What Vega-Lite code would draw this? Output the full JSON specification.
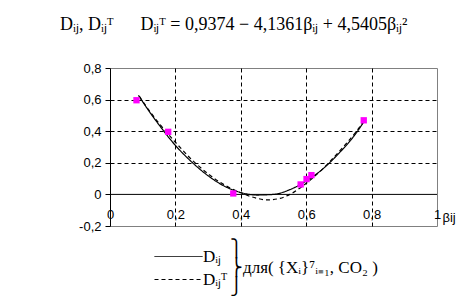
{
  "$schema": "https://vega.github.io/schema/vega-lite/v6.json",
  "width": 327,
  "height": 158,
  "autosize": "none",
  "padding": {"left": 110, "top": 68, "right": 33, "bottom": 82},
  "background": "white",
  "title": {
    "text": "Dᵢⱼ, Dᵢⱼᵀ\u2003\u2002Dᵢⱼᵀ = 0,9374 − 4,1361βᵢⱼ + 4,5405βᵢⱼ²",
    "anchor": "start",
    "frame": "group",
    "dx": -50,
    "offset": 28,
    "font": "Liberation Serif",
    "fontSize": 18,
    "fontWeight": "normal",
    "color": "black"
  },
  "config": {
    "view": {"stroke": "#808080", "strokeWidth": 1},
    "axis": {
      "labelFont": "Liberation Sans",
      "labelFontSize": 13,
      "labelColor": "black",
      "gridColor": "black",
      "gridDash": [4, 3],
      "gridWidth": 1
    }
  },
  "datasets": {
    "curves": [
      {"series": "Dᵢⱼ", "beta": 0.087, "D": 0.627},
      {"series": "Dᵢⱼ", "beta": 0.12, "D": 0.525},
      {"series": "Dᵢⱼ", "beta": 0.15, "D": 0.44},
      {"series": "Dᵢⱼ", "beta": 0.2, "D": 0.31},
      {"series": "Dᵢⱼ", "beta": 0.25, "D": 0.205},
      {"series": "Dᵢⱼ", "beta": 0.3, "D": 0.118},
      {"series": "Dᵢⱼ", "beta": 0.35, "D": 0.052},
      {"series": "Dᵢⱼ", "beta": 0.4, "D": 0.012},
      {"series": "Dᵢⱼ", "beta": 0.45, "D": -0.004},
      {"series": "Dᵢⱼ", "beta": 0.5, "D": 0.0},
      {"series": "Dᵢⱼ", "beta": 0.55, "D": 0.03},
      {"series": "Dᵢⱼ", "beta": 0.6, "D": 0.085},
      {"series": "Dᵢⱼ", "beta": 0.65, "D": 0.16},
      {"series": "Dᵢⱼ", "beta": 0.7, "D": 0.26},
      {"series": "Dᵢⱼ", "beta": 0.75, "D": 0.38},
      {"series": "Dᵢⱼ", "beta": 0.775, "D": 0.455},
      {"series": "Dᵢⱼᵀ", "beta": 0.09, "D": 0.62},
      {"series": "Dᵢⱼᵀ", "beta": 0.12, "D": 0.53},
      {"series": "Dᵢⱼᵀ", "beta": 0.15, "D": 0.45},
      {"series": "Dᵢⱼᵀ", "beta": 0.2, "D": 0.33},
      {"series": "Dᵢⱼᵀ", "beta": 0.25, "D": 0.22},
      {"series": "Dᵢⱼᵀ", "beta": 0.3, "D": 0.13},
      {"series": "Dᵢⱼᵀ", "beta": 0.35, "D": 0.06},
      {"series": "Dᵢⱼᵀ", "beta": 0.4, "D": 0.01},
      {"series": "Dᵢⱼᵀ", "beta": 0.45, "D": -0.025},
      {"series": "Dᵢⱼᵀ", "beta": 0.48, "D": -0.035},
      {"series": "Dᵢⱼᵀ", "beta": 0.52, "D": -0.025},
      {"series": "Dᵢⱼᵀ", "beta": 0.55, "D": 0.0},
      {"series": "Dᵢⱼᵀ", "beta": 0.6, "D": 0.07},
      {"series": "Dᵢⱼᵀ", "beta": 0.65, "D": 0.16},
      {"series": "Dᵢⱼᵀ", "beta": 0.7, "D": 0.27},
      {"series": "Dᵢⱼᵀ", "beta": 0.75, "D": 0.39},
      {"series": "Dᵢⱼᵀ", "beta": 0.775, "D": 0.46}
    ],
    "points": [
      {"beta": 0.081, "D": 0.596},
      {"beta": 0.178, "D": 0.396},
      {"beta": 0.377, "D": 0.006},
      {"beta": 0.583, "D": 0.063},
      {"beta": 0.601, "D": 0.097},
      {"beta": 0.616, "D": 0.122},
      {"beta": 0.776, "D": 0.469}
    ]
  },
  "layer": [
    {
      "data": {"values": [{"y0": 0}]},
      "mark": {"type": "rule", "color": "black", "strokeWidth": 1},
      "encoding": {"y": {"field": "y0", "type": "quantitative"}}
    },
    {
      "data": {"name": "curves"},
      "mark": {"type": "line", "color": "black", "strokeWidth": 1.2, "interpolate": "monotone"},
      "encoding": {
        "x": {
          "field": "beta",
          "type": "quantitative",
          "scale": {"domain": [0, 1], "nice": false, "zero": false},
          "axis": {
            "values": [0, 0.2, 0.4, 0.6, 0.8, 1],
            "tickCount": 12,
            "domain": false,
            "ticks": false,
            "tickSize": 0,
            "labelPadding": -18,
            "labelFlush": false,
            "labelOverlap": false,
            "labelExpr": "replace(datum.value == 0 ? '0' : datum.value == 1 ? '1' : format(datum.value, '.1f'), '.', ',')",
            "grid": true,
            "gridOpacity": {"condition": {"test": "datum.value < 0.01 || datum.value > 0.99", "value": 0}, "value": 1},
            "title": "βij",
            "titleFont": "Liberation Sans",
            "titleFontSize": 13,
            "titleFontWeight": "normal",
            "titleColor": "black",
            "titleAlign": "left",
            "titleBaseline": "alphabetic",
            "titleAnchor": "end",
            "titleX": 332,
            "titleY": -5
          }
        },
        "y": {
          "field": "D",
          "type": "quantitative",
          "scale": {"domain": [-0.2, 0.8], "nice": false, "zero": false},
          "axis": {
            "values": [-0.2, 0, 0.2, 0.4, 0.6, 0.8],
            "tickCount": 12,
            "domainColor": "black",
            "tickColor": "black",
            "tickSize": 5,
            "labelPadding": 4,
            "labelOverlap": false,
            "labelFlush": false,
            "labelExpr": "replace(replace(abs(datum.value) < 0.001 ? '0' : format(datum.value, '.1f'), '.', ','), '−', '-')",
            "grid": true,
            "gridOpacity": {"condition": {"test": "abs(datum.value) < 0.001 || datum.value > 0.79 || datum.value < -0.19", "value": 0}, "value": 1},
            "title": null
          }
        },
        "strokeDash": {
          "field": "series",
          "type": "nominal",
          "scale": {"domain": ["Dᵢⱼ", "Dᵢⱼᵀ"], "range": [[1, 0], [4, 3]]},
          "legend": {
            "orient": "none",
            "legendX": 60,
            "legendY": 180,
            "direction": "vertical",
            "symbolType": "M-6,0H6",
            "symbolSize": 64,
            "symbolStrokeColor": "black",
            "symbolStrokeWidth": 1,
            "labelFont": "Liberation Serif",
            "labelFontSize": 17,
            "labelColor": "black",
            "labelOffset": 16,
            "rowPadding": 5,
            "title": ["⎫", "⎬для( {Xᵢ}⁷ᵢ₌₁, CO₂ )", "⎭"],
            "titleOrient": "right",
            "titleFont": "Liberation Serif",
            "titleFontSize": 17,
            "titleFontWeight": "normal",
            "titleColor": "black",
            "titleLineHeight": 19,
            "titleAlign": "left",
            "titlePadding": 3
          }
        }
      }
    },
    {
      "data": {"name": "points"},
      "mark": {"type": "point", "shape": "square", "filled": true, "color": "#FF00FF", "size": 40, "opacity": 1},
      "encoding": {
        "x": {"field": "beta", "type": "quantitative"},
        "y": {"field": "D", "type": "quantitative"}
      }
    }
  ]
}
